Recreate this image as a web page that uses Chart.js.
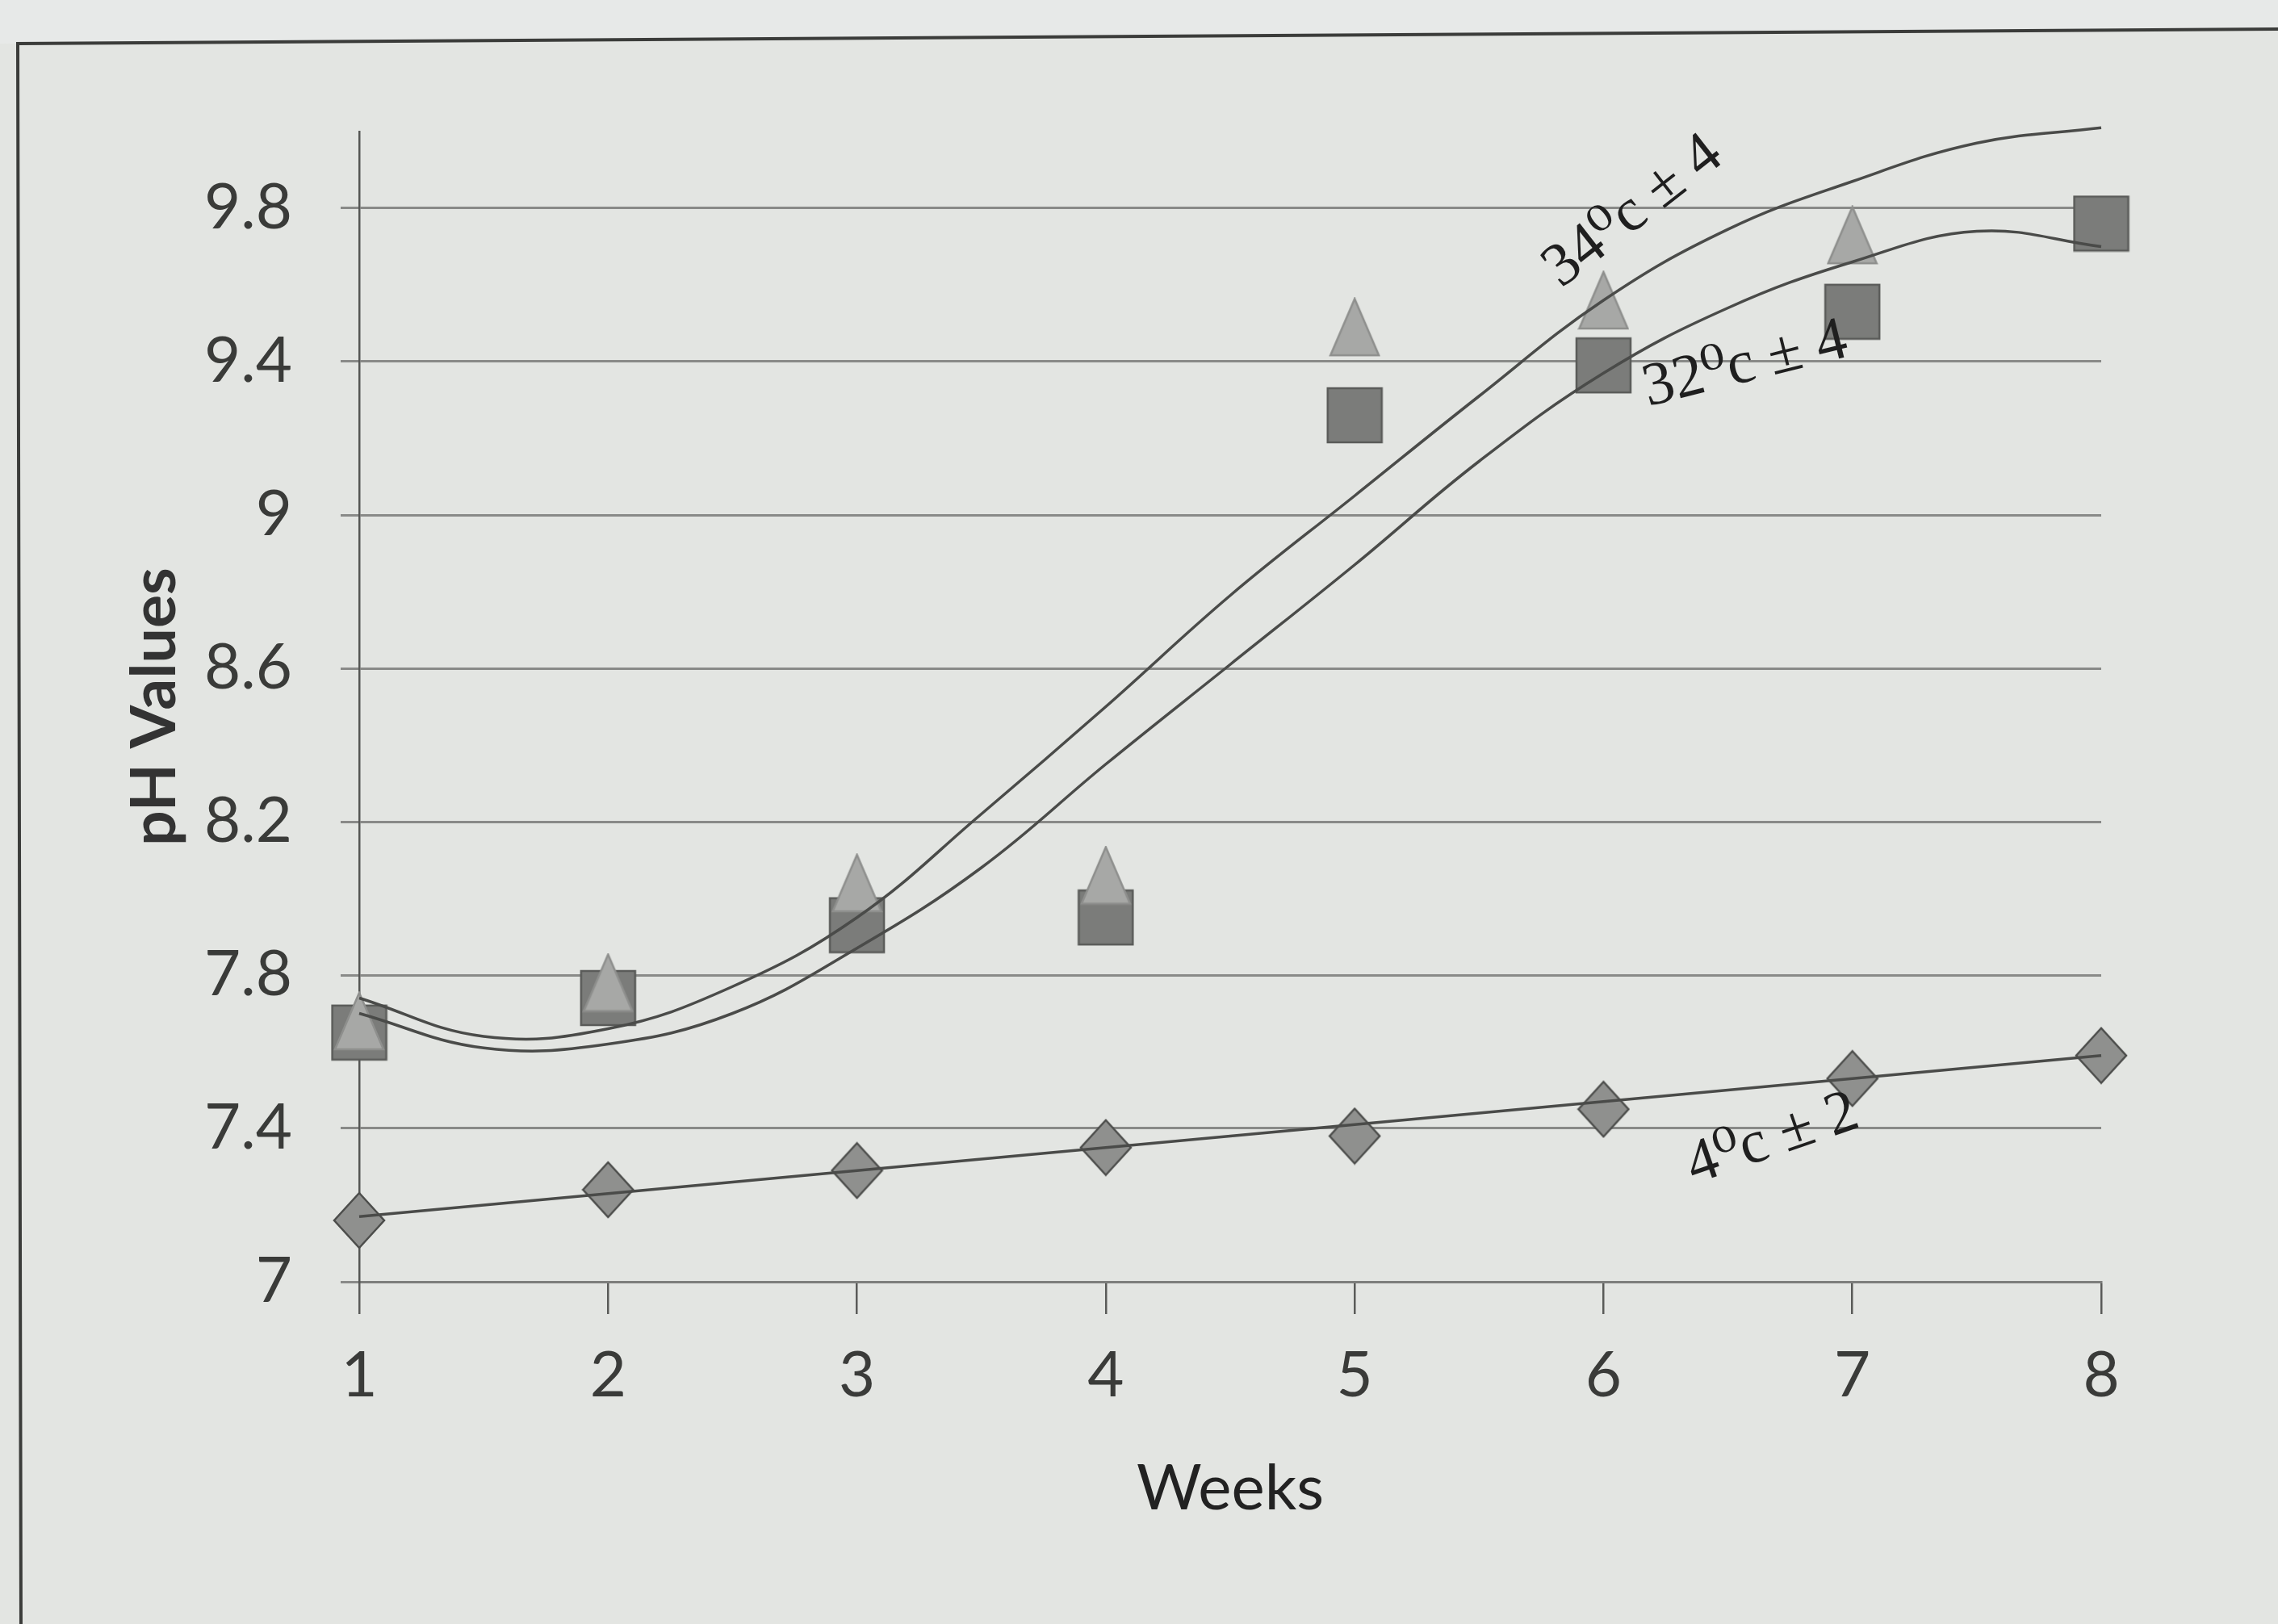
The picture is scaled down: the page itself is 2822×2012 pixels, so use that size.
<!DOCTYPE html>
<html lang="en">
<head>
<meta charset="UTF-8">
<title>pH Values by Week</title>
<script src="https://cdn.jsdelivr.net/npm/chart.js@4.4.1/dist/chart.umd.min.js"></script>
<style>
    html, body { margin: 0; padding: 0; background: #e3e5e2; }
    #chart { display: block; }
</style>
</head>
<body>

<canvas id="chart" width="2822" height="2012"></canvas>

<script>
    // measured points (weeks 1..8)
    const weeks = [1, 2, 3, 4, 5, 6, 7, 8];
    const ph34 = [7.68, 7.78, 8.04, 8.06, 9.49, 9.56, 9.73, null];
    const ph32 = [7.65, 7.74, 7.93, 7.95, 9.26, 9.39, 9.53, 9.76];
    const ph4  = [7.16, 7.24, 7.29, 7.35, 7.38, 7.45, 7.53, 7.59];

    // trend curves
    const trendWeeks = [1, 1.5, 2, 2.5, 3, 3.5, 4, 4.5, 5, 5.5, 6, 6.5, 7, 7.5, 8];
    const trend34 = [7.74, 7.64, 7.66, 7.77, 7.95, 8.22, 8.50, 8.79, 9.05, 9.31, 9.56, 9.745, 9.87, 9.97, 10.01];
    const trend32 = [7.70, 7.61, 7.62, 7.70, 7.87, 8.08, 8.35, 8.61, 8.87, 9.14, 9.37, 9.54, 9.66, 9.74, 9.70];
    const trend4Weeks = [1, 8];
    const trend4 = [7.17, 7.59];

    const yTicks = [7, 7.4, 7.8, 8.2, 8.6, 9, 9.4, 9.8];
    const curveNames = ['34\u2070c \u00b1 4', '32\u2070c \u00b1 4', '4\u2070c \u00b1 2'];

    function toPoints(xs, ys) {
        return xs.map(function (x, i) { return { x: x, y: ys[i] }; });
    }

    // excel-like marker images, centred on the value
    function marker(kind, w, h, fill, stroke) {
        const c = document.createElement('canvas');
        c.width = w + 4;
        c.height = h + 4;
        const g = c.getContext('2d');
        g.translate(2, 2);
        g.beginPath();
        if (kind === 'triangle') {
            g.moveTo(w / 2, 0);
            g.lineTo(w, h);
            g.lineTo(0, h);
        } else if (kind === 'diamond') {
            g.moveTo(w / 2, 0);
            g.lineTo(w, h / 2);
            g.lineTo(w / 2, h);
            g.lineTo(0, h / 2);
        } else {
            g.rect(0, 0, w, h);
        }
        g.closePath();
        g.fillStyle = fill;
        g.fill();
        g.lineWidth = 2.5;
        g.strokeStyle = stroke;
        g.stroke();
        return c;
    }

    const triMark = marker('triangle', 60, 70, '#a7a8a6', '#8e8f8d');
    const sqMark = marker('square', 67, 67, '#7b7c7a', '#5a5b59');
    const diaMark = marker('diamond', 62, 68, '#8f908e', '#4c4d4b');

    const paper = {
        id: 'paper',
        beforeDraw(chart) {
            const ctx = chart.ctx;
            ctx.save();
            ctx.fillStyle = '#e3e5e2';
            ctx.fillRect(0, 0, chart.width, chart.height);
            ctx.fillStyle = '#e7e9e8';
            ctx.beginPath();
            ctx.moveTo(0, 0);
            ctx.lineTo(chart.width, 0);
            ctx.lineTo(chart.width, 36);
            ctx.lineTo(0, 54);
            ctx.closePath();
            ctx.fill();
            // chart frame
            ctx.strokeStyle = '#3b3c3a';
            ctx.lineWidth = 4;
            ctx.beginPath();
            ctx.moveTo(26, chart.height + 10);
            ctx.lineTo(22, 54);
            ctx.lineTo(chart.width + 10, 36);
            ctx.stroke();
            ctx.restore();
        }
    };

    const curveLabels = {
        id: 'curveLabels',
        afterDatasetsDraw(chart) {
            const ctx = chart.ctx;
            const xs = chart.scales.x;
            const ys = chart.scales.y;
            const spots = [
                { week: 6.12, ph: 9.79, angle: -38 },
                { week: 6.57, ph: 9.39, angle: -14 },
                { week: 6.68, ph: 7.37, angle: -19 }
            ];
            ctx.save();
            ctx.fillStyle = '#1f1f1f';
            ctx.font = '76px "Liberation Serif", "DejaVu Serif", serif';
            ctx.textAlign = 'center';
            ctx.textBaseline = 'middle';
            spots.forEach(function (s, i) {
                ctx.save();
                ctx.translate(xs.getPixelForValue(s.week), ys.getPixelForValue(s.ph));
                ctx.rotate(s.angle * Math.PI / 180);
                ctx.fillText(curveNames[i], 0, 0);
                ctx.restore();
            });
            ctx.restore();
        }
    };

    const trendStyle = {
        showLine: true,
        borderColor: '#4a4b49',
        borderWidth: 3.5,
        pointRadius: 0,
        tension: 0.4,
        fill: false,
        clip: false,
        order: 0
    };

    new Chart(document.getElementById('chart').getContext('2d'), {
        type: 'scatter',
        data: {
            datasets: [
                Object.assign({ label: 'trend 34', data: toPoints(trendWeeks, trend34) }, trendStyle),
                Object.assign({ label: 'trend 32', data: toPoints(trendWeeks, trend32) }, trendStyle),
                Object.assign({ label: 'trend 4', data: toPoints(trend4Weeks, trend4) }, trendStyle),
                { label: curveNames[0], data: toPoints(weeks, ph34), pointStyle: triMark, pointRadius: 34, clip: false, order: 1 },
                { label: curveNames[1], data: toPoints(weeks, ph32), pointStyle: sqMark, pointRadius: 34, clip: false, order: 2 },
                { label: curveNames[2], data: toPoints(weeks, ph4), pointStyle: diaMark, pointRadius: 34, clip: false, order: 3 }
            ]
        },
        options: {
            responsive: false,
            animation: false,
            layout: { padding: { left: 146, top: 163, right: 219, bottom: 120 } },
            plugins: {
                legend: { display: false },
                tooltip: { enabled: false }
            },
            scales: {
                x: {
                    type: 'linear',
                    min: 1,
                    max: 8,
                    afterBuildTicks: function (s) { s.ticks = weeks.map(function (v) { return { value: v }; }); },
                    afterFit: function (s) { s.height = 304; },
                    grid: { drawOnChartArea: false, tickLength: 40, color: '#5a5b59', lineWidth: 2.5 },
                    border: { display: true, color: '#7d7e7c', width: 3 },
                    ticks: {
                        padding: 30,
                        color: '#3a3b39',
                        font: { family: 'Lato', size: 78 },
                        callback: function (v) { return String(v); }
                    },
                    title: {
                        display: true,
                        text: 'Weeks',
                        color: '#222',
                        font: { family: 'Lato', size: 78 },
                        padding: { top: 0, bottom: 0 }
                    }
                },
                y: {
                    min: 7,
                    max: 10,
                    afterBuildTicks: function (s) { s.ticks = yTicks.map(function (v) { return { value: v }; }); },
                    afterFit: function (s) { s.width = 299; },
                    grid: { color: '#898a88', lineWidth: 3, tickLength: 23 },
                    border: { display: true, color: '#555654', width: 2.5 },
                    ticks: {
                        padding: 60,
                        color: '#3a3b39',
                        font: { family: 'Lato', size: 78 },
                        callback: function (v) { return String(Math.round(v * 10) / 10); }
                    },
                    title: {
                        display: true,
                        text: 'pH Values',
                        color: '#333',
                        font: { family: 'Lato', size: 77, weight: 'bold' },
                        padding: { top: 0, bottom: 0 }
                    }
                }
            }
        },
        plugins: [paper, curveLabels]
    });
</script>

</body>
</html>
